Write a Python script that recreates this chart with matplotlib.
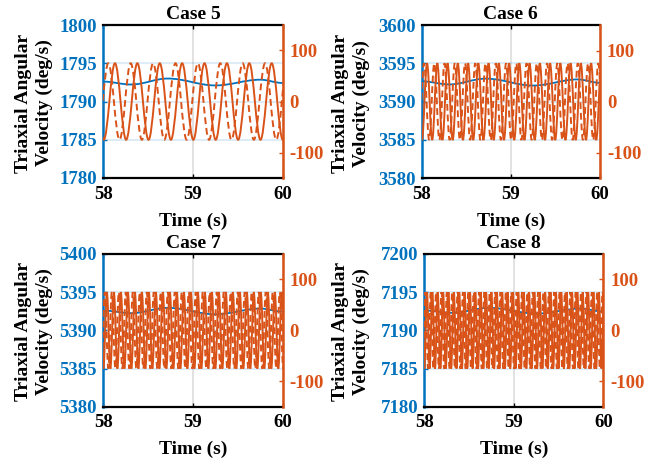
import numpy as np
import matplotlib
matplotlib.use("Agg")
import matplotlib.pyplot as plt
from matplotlib.path import Path
from matplotlib.patches import PathPatch

plt.rcParams["font.family"] = ["Liberation Serif", "DejaVu Serif"]
plt.rcParams["font.weight"] = "bold"
plt.rcParams["axes.unicode_minus"] = False

BLUE = "#0072BD"
ORANGE = "#D95319"

case_titles = ["Case 5", "Case 6", "Case 7", "Case 8"]
speed_ticks = [
    [1780, 1785, 1790, 1795, 1800],
    [3580, 3585, 3590, 3595, 3600],
    [5380, 5385, 5390, 5395, 5400],
    [7180, 7185, 7190, 7195, 7200],
]
time_ticks = [58, 59, 60]
rate_ticks = [-100, 0, 100]
rate_limits = [-150, 150]

# Triaxial speed (left axis): turning points of the slow ripple
speed_t = [58.0, 58.31, 58.72, 59.25, 59.75, 60.0]
speed_v = [
    [1792.6, 1792.22, 1793.0, 1792.1, 1792.85, 1792.42],
    [3592.65, 3592.25, 3593.0, 3592.1, 3592.9, 3592.45],
    [5392.6, 5392.25, 5392.95, 5392.1, 5392.85, 5392.45],
    [7192.6, 7192.3, 7192.95, 7192.2, 7192.85, 7192.45],
]

# Oscillating rate components (right axis): crest height, period, first crest time
rate_amp = [75, 75, 75, 75]
rate_period = [0.2496, 0.115, 0.078, 0.060]
solid_crest = [58.130, 58.060, 58.040, 58.030]
dashed_crest = [58.056, 58.026, 58.017, 58.012]

# axes boxes in pixels: left, right, top, bottom
boxes = [
    (103.3, 282.7, 25.0, 178.0),
    (421.7, 600.0, 25.0, 178.3),
    (103.3, 282.7, 254.0, 406.7),
    (424.3, 603.3, 254.0, 406.7),
]
ylabel_x = [34.2, 351.3, 34.2, 351.3]

W, H = 656, 462


def smooth_path(t, v, k=0.3634):
    """Cubic Bezier through turning points with flat tangents at each point."""
    verts = [(t[0], v[0])]
    codes = [Path.MOVETO]
    for t0, v0, t1, v1 in zip(t[:-1], v[:-1], t[1:], v[1:]):
        d = t1 - t0
        verts += [(t0 + k * d, v0), (t1 - k * d, v1), (t1, v1)]
        codes += [Path.CURVE4] * 3
    return Path(verts, codes)


def turning_points(first, period, amp, lo=58.0, hi=60.0):
    half = period / 2
    n0 = int(np.floor((lo - first) / half)) - 1
    n1 = int(np.ceil((hi - first) / half)) + 1
    n = np.arange(n0, n1 + 1)
    return first + n * half, np.where(n % 2 == 0, amp, -amp)


fig = plt.figure(figsize=(W / 100, H / 100), dpi=100)

for i in range(4):
    l, r, t, b = boxes[i]
    ax = fig.add_axes([l / W, 1 - b / H, (r - l) / W, (b - t) / H])
    ax.add_patch(PathPatch(smooth_path(speed_t, speed_v[i]), fill=False,
                           edgecolor=BLUE, lw=1.3, zorder=3))
    ax.set_xlim(time_ticks[0], time_ticks[-1])
    ax.set_ylim(speed_ticks[i][0], speed_ticks[i][-1])
    ax.set_xticks(time_ticks)
    ax.set_yticks(speed_ticks[i])
    ax.set_axisbelow(True)
    ax.yaxis.grid(True, color=BLUE, alpha=0.15, lw=1.3)
    ax.xaxis.grid(True, color="#262626", alpha=0.15, lw=1.3)
    ax.tick_params(axis="y", direction="in", length=3, width=1, colors=BLUE,
                   labelsize=13.5, pad=4.5, right=False)
    ax.tick_params(axis="x", direction="in", length=3, width=1, top=True,
                   labelsize=13.5, pad=5.5)
    for side in ("top", "bottom"):
        ax.spines[side].set_linewidth(1.6)
        ax.spines[side].set_color("black")
    ax.spines["left"].set_linewidth(1.8)
    ax.spines["left"].set_color(BLUE)
    ax.spines["right"].set_visible(False)
    ax.set_title(case_titles[i], fontsize=14, fontweight="bold", pad=4)
    ax.set_xlabel("Time (s)", fontsize=14, fontweight="bold", labelpad=7)

    ax2 = ax.twinx()
    for crest, ls in ((solid_crest[i], "-"), (dashed_crest[i], (0, (3.5, 2)))):
        tt, vv = turning_points(crest, rate_period[i], rate_amp[i])
        ax2.add_patch(PathPatch(smooth_path(tt, vv), fill=False,
                                edgecolor=ORANGE, lw=1.4, linestyle=ls))
    ax2.set_xlim(time_ticks[0], time_ticks[-1])
    ax2.set_ylim(rate_limits)
    ax2.set_yticks(rate_ticks)
    ax2.tick_params(axis="y", direction="in", length=3, width=1, colors=ORANGE,
                    labelsize=13.5, pad=5)
    for side in ("left", "top", "bottom"):
        ax2.spines[side].set_visible(False)
    ax2.spines["right"].set_linewidth(1.8)
    ax2.spines["right"].set_color(ORANGE)

    fig.text(ylabel_x[i] / W, 1 - ((t + b) / 2 + 1.5) / H,
             "Triaxial Angular\nVelocity (deg/s)", rotation=90,
             ha="center", va="center", ma="center", fontsize=14,
             fontweight="bold", linespacing=1.25)

fig.savefig("out.png", dpi=100)
